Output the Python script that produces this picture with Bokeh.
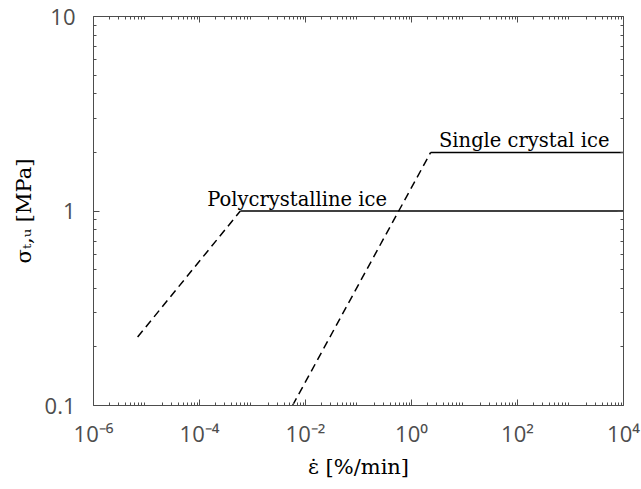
from bokeh.plotting import figure
from bokeh.models import LogAxis, ColumnDataSource, FixedTicker
from bokeh.core.properties import value
from bokeh.embed import file_html
from bokeh.resources import INLINE

# data
poly_x = [6.8e-6, 5.9e-4, 1e4]
poly_y = [0.225, 1.0, 1.0]
single_x = [5.7e-3, 2.3, 1e4]
single_y = [0.1, 2.0, 2.0]
label_text = ["Polycrystalline ice", "Single crystal ice"]
label_x = [1.4e-4, 3.3]
label_y = [1.15, 2.3]
x_ticks = [1e-6, 1e-4, 1e-2, 1e0, 1e2, 1e4]
x_tick_labels = ["10⁻⁶", "10⁻⁴", "10⁻²", "10⁰", "10²", "10⁴"]
y_ticks = [0.1, 1, 10]
y_tick_labels = ["0.1", "1", "10"]

gray = "#4d4d4d"
p = figure(x_axis_type="log", y_axis_type="log",
           x_range=(1e-6, 1e4), y_range=(0.1, 10),
           frame_width=530, frame_height=389,
           min_border_left=93, min_border_right=18, min_border_top=16, min_border_bottom=84,
           output_backend="svg", toolbar_location=None)
p.grid.visible = False
p.outline_line_color = None
p.background_fill_color = "white"
p.border_fill_color = "white"

# dashed rising parts and solid plateaus
p.line(poly_x[:2], poly_y[:2], line_color="black", line_width=1.5, line_dash="8 5")
p.line(poly_x[1:], poly_y[1:], line_color="black", line_width=1.5)
p.line(single_x[:2], single_y[:2], line_color="black", line_width=1.5, line_dash="8 5")
p.line(single_x[1:], single_y[1:], line_color="black", line_width=1.5)

src = ColumnDataSource(dict(x=label_x, y=label_y, t=label_text))
p.text(x="x", y="y", text="t", source=src, text_font=value("DejaVu Serif"),
       text_font_size="19.5px", text_color="black", text_baseline="alphabetic")

def style(ax, labels=True):
    ax.axis_line_color = gray
    ax.axis_line_width = 1
    ax.major_tick_in = 6
    ax.major_tick_out = 0
    ax.minor_tick_in = 3
    ax.minor_tick_out = 0
    ax.major_tick_line_color = gray
    ax.minor_tick_line_color = gray
    ax.major_label_text_color = gray
    ax.major_label_text_font = "Open Sans"
    ax.major_label_text_font_size = "22px"
    if not labels:
        ax.major_label_text_font_size = "0px"
        ax.major_label_text_alpha = 0

xa = p.xaxis[0]
xa.ticker = FixedTicker(ticks=x_ticks, minor_ticks=[m * 10**e for e in range(-6, 4) for m in range(2, 10)])
xa.major_label_overrides = {t: l for t, l in zip(x_ticks, x_tick_labels)}
style(xa)
xa.major_label_standoff = 12
xa.axis_label = "ε̇ [%/min]"
xa.axis_label_text_font = "DejaVu Serif"
xa.axis_label_text_font_style = "normal"
xa.axis_label_text_font_size = "21px"
xa.axis_label_text_color = "black"
xa.axis_label_standoff = 4

ya = p.yaxis[0]
ya.ticker = FixedTicker(ticks=y_ticks, minor_ticks=[m * 10**e for e in range(-1, 1) for m in range(2, 10)])
ya.major_label_overrides = {t: l for t, l in zip(y_ticks, y_tick_labels)}
style(ya)
ya.major_label_standoff = 18
ya.major_label_orientation = "horizontal"
ya.axis_label = "σₜ,ᵤ [MPa]"
ya.axis_label_text_font = "DejaVu Serif"
ya.axis_label_text_font_style = "normal"
ya.axis_label_text_font_size = "21px"
ya.axis_label_text_color = "black"
ya.axis_label_standoff = 6

top = LogAxis(ticker=FixedTicker(ticks=x_ticks, minor_ticks=xa.ticker.minor_ticks))
style(top, labels=False)
p.add_layout(top, "above")
right = LogAxis(ticker=FixedTicker(ticks=y_ticks, minor_ticks=ya.ticker.minor_ticks))
style(right, labels=False)
p.add_layout(right, "right")

open("out.html", "w").write(file_html(p, INLINE))
